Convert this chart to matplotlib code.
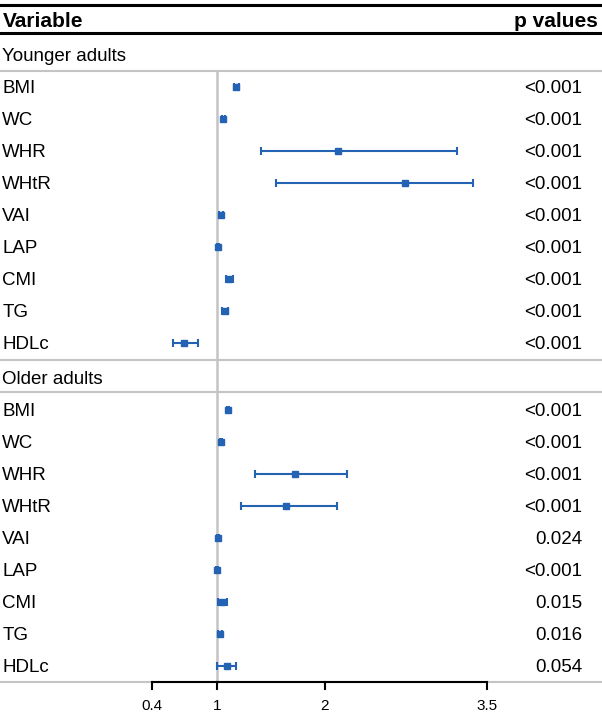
import matplotlib.pyplot as plt

plt.rcParams['font.family'] = ['Liberation Sans', 'DejaVu Sans']

variables = ['BMI', 'WC', 'WHR', 'WHtR', 'VAI', 'LAP', 'CMI', 'TG', 'HDLc']

# Younger adults
young_or = [1.18, 1.06, 2.12, 2.74, 1.04, 1.01, 1.11, 1.07, 0.69]
young_lo = [1.16, 1.05, 1.41, 1.55, 1.02, 1.00, 1.08, 1.05, 0.59]
young_hi = [1.20, 1.07, 3.22, 3.37, 1.06, 1.02, 1.15, 1.10, 0.82]
young_p = ['<0.001'] * 9

# Older adults
old_or = [1.10, 1.04, 1.72, 1.64, 1.01, 1.00, 1.05, 1.03, 1.09]
old_lo = [1.09, 1.03, 1.35, 1.22, 1.00, 0.995, 1.01, 1.01, 1.00]
old_hi = [1.11, 1.05, 2.20, 2.11, 1.02, 1.005, 1.09, 1.05, 1.18]
old_p = ['<0.001', '<0.001', '<0.001', '<0.001', '0.024', '<0.001', '0.015', '0.016', '0.054']

xticks = [0.4, 1, 2, 3.5]

blue = '#2462B4'
grey = '#C4C4C4'
W, H = 602, 714
px_per_unit = 108.0
x_ref = 217.0
fs = 13.5
dy = 1.5  # text nudge

fig = plt.figure(figsize=(W / 100, H / 100), dpi=100)
ax = fig.add_axes([0, 0, 1, 1])
ax.set_xlim(1 - x_ref / px_per_unit, 1 + (W - x_ref) / px_per_unit)
ax.set_ylim(H, 0)
ax.axis('off')

ytr = ax.get_yaxis_transform()

# header lines
ax.plot([0, 1], [5, 5], color='black', lw=2.2, transform=ytr)
ax.plot([0, 1], [33, 33], color='black', lw=2.2, transform=ytr)
ax.text(0.004, 20 + dy, 'Variable', transform=ytr, fontsize=15, fontweight='bold', va='center', ha='left')
ax.text(0.993, 20 + dy, 'p values', transform=ytr, fontsize=15, fontweight='bold', va='center', ha='right')

# section separators
for yy in [71, 360, 392, 682]:
    ax.plot([0, 1], [yy, yy], color=grey, lw=1.5, transform=ytr)

# reference line at 1
ax.plot([1, 1], [71, 682], color=grey, lw=1.8)

sections = [
    ('Younger adults', 55, 87, young_or, young_lo, young_hi, young_p),
    ('Older adults', 378, 410, old_or, old_lo, old_hi, old_p),
]
for title, ty, y0, est, lo, hi, pv in sections:
    ax.text(0.004, ty + dy, title, transform=ytr, fontsize=fs, va='center', ha='left')
    ys = [y0 + 32 * i for i in range(len(variables))]
    for i, name in enumerate(variables):
        ax.text(0.004, ys[i] + dy, name, transform=ytr, fontsize=fs, va='center', ha='left')
        ax.text(0.967, ys[i] + dy, pv[i], transform=ytr, fontsize=fs, va='center', ha='right')
    err = [[e - l for e, l in zip(est, lo)], [h - e for e, h in zip(est, hi)]]
    ax.errorbar(est, ys, xerr=err, fmt='s', color=blue, ms=4, lw=1.5,
                capsize=3, capthick=1.5, zorder=3)

# x axis
ax.plot([xticks[0], xticks[-1]], [682, 682], color='black', lw=1.5, solid_capstyle='butt')
for t in xticks:
    ax.plot([t, t], [682, 689], color='black', lw=1.5)
    ax.text(t, 706, str(t), fontsize=11, ha='center', va='center')

fig.savefig('out.png', dpi=100)
